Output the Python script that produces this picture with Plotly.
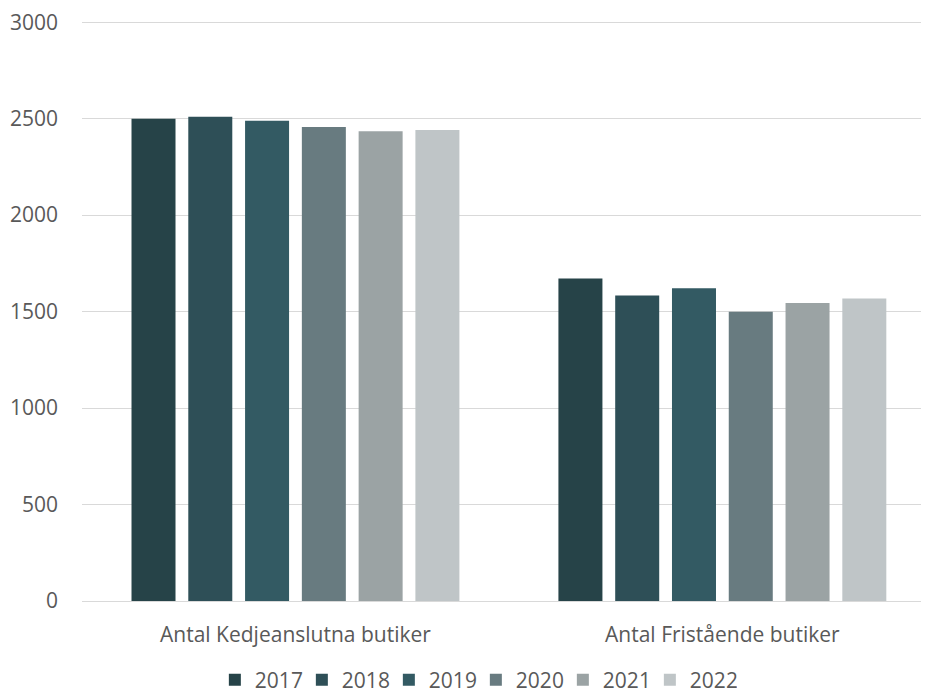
import plotly.graph_objects as go

categories = ["Antal Kedjeanslutna butiker", "Antal Fristående butiker"]
years = ["2017", "2018", "2019", "2020", "2021", "2022"]
values = {
    "2017": [2500, 1671],
    "2018": [2510, 1583],
    "2019": [2489, 1621],
    "2020": [2456, 1499],
    "2021": [2434, 1545],
    "2022": [2441, 1568],
}
colors = ["#264348", "#2e4f57", "#335a63", "#687b80", "#9ba3a4", "#bfc5c7"]

fig = go.Figure()
for year, color in zip(years, colors):
    fig.add_trace(go.Bar(name=year, x=categories, y=values[year], marker_color=color,
                         marker_line_width=0))

# page body has an 8px margin, so the figure is a bit smaller than the window
fig.update_layout(
    width=921, height=685,
    barmode="group", bargap=0.202, bargroupgap=0.225,
    plot_bgcolor="white", paper_bgcolor="white",
    font=dict(family="Open Sans", size=21, color="#595959"),
    margin=dict(l=74, r=0, t=13, b=92, autoexpand=False),
    legend=dict(orientation="h", x=0.465, xanchor="center", y=-0.1364, yanchor="middle",
                font=dict(size=21), entrywidth=42, itemwidth=30),
    showlegend=True,
)
fig.update_xaxes(range=[-0.5, 1.484], showgrid=False, showline=True, linecolor="#d9d9d9",
                 linewidth=1, ticks="", tickfont=dict(size=21), automargin=False,
                 ticklabelstandoff=15)
# range goes a little past 3000 so the top gridline is drawn
fig.update_yaxes(range=[0, 3006], tickvals=[0, 500, 1000, 1500, 2000, 2500, 3000],
                 showgrid=True, gridcolor="#d9d9d9",
                 gridwidth=1, zeroline=False, ticks="", tickfont=dict(size=21),
                 automargin=False, ticklabelstandoff=23, ticklabeloverflow="allow")

fig.write_html("out.html")
